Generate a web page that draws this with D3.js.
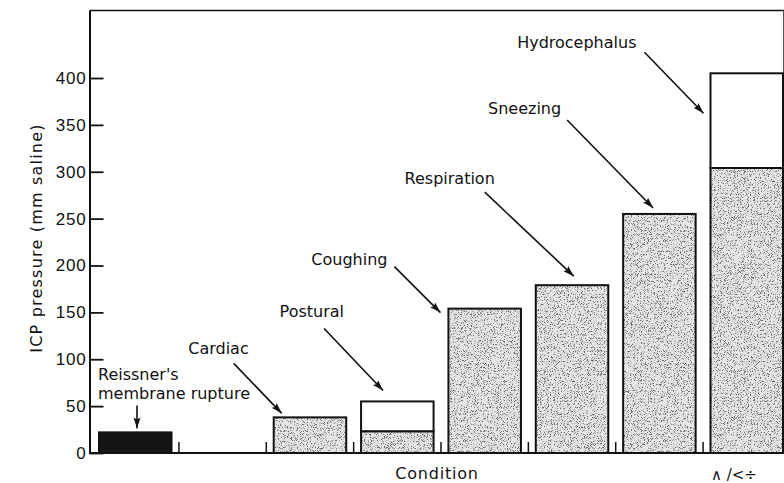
<!DOCTYPE html>
<html>
<head>
<meta charset="utf-8">
<script src="https://cdn.jsdelivr.net/npm/d3@7"></script>
<style>
    body { margin: 0; background: #fff; }
    svg { display: block; font-family: 'DejaVu Sans', sans-serif; }
    .tick text { font-size: 17px; letter-spacing: 0.8px; fill: #111; }
    .label { font-size: 16px; fill: #111; }
</style>
</head>
<body>
<svg id="plot"></svg>
<script>
'use strict';

const width = 784;
const height = 483;

// one empty slot between the first bar and Cardiac
const conditions = ["Reissner's membrane rupture", 'gap', 'Cardiac', 'Postural', 'Coughing', 'Respiration', 'Sneezing', 'Hydrocephalus'];
const baseValues = [22, null, 38, 23, 154, 179, 255, 304];
const peakValues = [null, null, null, 55, null, null, null, 405];
const yTicks = [0, 50, 100, 150, 200, 250, 300, 350, 400];

const axisX = 89.5;
const baseY = 453;
const topY = 10.5;

const svg = d3.select('#plot')
    .attr('width', width)
    .attr('height', height);

const xScale = d3.scaleBand()
    .domain(conditions)
    .range([99, 783])
    .paddingInner(0.17)
    .paddingOuter(0);

const yScale = d3.scaleLinear()
    .domain([0, 472])
    .range([baseY, topY]);

const defs = svg.append('defs');

defs.append('marker')
    .attr('id', 'head')
    .attr('markerUnits', 'userSpaceOnUse')
    .attr('markerWidth', 12)
    .attr('markerHeight', 8)
    .attr('refX', 11)
    .attr('refY', 3.5)
    .attr('orient', 'auto')
    .append('path')
    .attr('d', 'M0,0 L11,3.5 L0,7 L2,3.5 Z')
    .attr('fill', '#111');

// stippled grey like the printed original
const stip = defs.append('filter')
    .attr('id', 'stipple')
    .attr('x', 0).attr('y', 0).attr('width', 1).attr('height', 1);
stip.append('feTurbulence')
    .attr('type', 'fractalNoise')
    .attr('baseFrequency', 1.3)
    .attr('numOctaves', 1)
    .attr('seed', 7)
    .attr('result', 'noise');
stip.append('feColorMatrix')
    .attr('in', 'noise')
    .attr('type', 'matrix')
    .attr('values', '0 0 0 0 0.15  0 0 0 0 0.15  0 0 0 0 0.15  8 0 0 0 -4.25')
    .attr('result', 'dots');
stip.append('feFlood')
    .attr('flood-color', '#e6e6e6')
    .attr('result', 'bg');
stip.append('feComposite')
    .attr('in', 'dots')
    .attr('in2', 'bg')
    .attr('operator', 'over');

defs.append('pattern')
    .attr('id', 'grey')
    .attr('patternUnits', 'userSpaceOnUse')
    .attr('width', 200)
    .attr('height', 200)
    .append('rect')
    .attr('width', 200)
    .attr('height', 200)
    .attr('filter', 'url(#stipple)');

// frame
svg.append('line')
    .attr('x1', axisX).attr('x2', width)
    .attr('y1', topY).attr('y2', topY)
    .attr('stroke', '#111').attr('stroke-width', 1.5);
svg.append('line')
    .attr('x1', 783.5).attr('x2', 783.5)
    .attr('y1', topY).attr('y2', baseY)
    .attr('stroke', '#555').attr('stroke-width', 1);

// y axis, ticks pointing inward
svg.append('g')
    .attr('transform', `translate(${axisX},0)`)
    .call(d3.axisLeft(yScale).tickValues(yTicks).tickSizeInner(-14).tickSizeOuter(0).tickPadding(3))
    .call(g => g.select('.domain').attr('stroke', '#111').attr('stroke-width', 2))
    .call(g => g.selectAll('.tick line').attr('stroke', '#111').attr('stroke-width', 1.8))
    .call(g => g.selectAll('.tick text').attr('font-family', null).attr('font-size', null));

const bars = conditions.map((c, i) => ({ c, base: baseValues[i], peak: peakValues[i], i }))
    .filter(d => d.base !== null);

// upper (white) part of the range bars
svg.selectAll('rect.peak')
    .data(bars.filter(d => d.peak !== null))
    .enter()
    .append('rect')
    .attr('class', 'peak')
    .attr('x', d => xScale(d.c))
    .attr('y', d => yScale(d.peak))
    .attr('width', xScale.bandwidth())
    .attr('height', d => yScale(d.base) - yScale(d.peak))
    .attr('fill', '#fff')
    .attr('stroke', '#111')
    .attr('stroke-width', 2);

svg.selectAll('rect.base')
    .data(bars)
    .enter()
    .append('rect')
    .attr('class', 'base')
    .attr('x', d => xScale(d.c))
    .attr('y', d => yScale(d.base))
    .attr('width', xScale.bandwidth())
    .attr('height', d => yScale(0) - yScale(d.base))
    .attr('fill', d => d.i === 0 ? '#141414' : 'url(#grey)')
    .attr('stroke', '#111')
    .attr('stroke-width', 2);

// baseline with small separators between slots
svg.append('line')
    .attr('x1', axisX).attr('x2', width)
    .attr('y1', baseY).attr('y2', baseY)
    .attr('stroke', '#111').attr('stroke-width', 2);

const gap = xScale.step() - xScale.bandwidth();
svg.selectAll('line.sep')
    .data(conditions.slice(0, -1))
    .enter()
    .append('line')
    .attr('class', 'sep')
    .attr('x1', c => xScale(c) + xScale.bandwidth() + gap / 2)
    .attr('x2', c => xScale(c) + xScale.bandwidth() + gap / 2)
    .attr('y1', baseY)
    .attr('y2', baseY - 11)
    .attr('stroke', '#111')
    .attr('stroke-width', 1.5);

// annotation arrows, anchored to the bar tops
const notes = [
    { c: conditions[0], end: [38, -4], vec: [0, 23], lines: ["Reissner's", 'membrane rupture'], anchor: 'start', txt: [-39, -25] },
    { c: 'Cardiac', end: [8, -4], vec: [48, 50], lines: ['Cardiac'], anchor: 'end', txt: [15, -9] },
    { c: 'Postural', end: [22, -11], vec: [59, 62], lines: ['Postural'], anchor: 'end', txt: [20, -11] },
    { c: 'Coughing', end: [-8, 4], vec: [46, 46], lines: ['Coughing'], anchor: 'end', txt: [-7, -2] },
    { c: 'Respiration', end: [38, -9], vec: [89, 84], lines: ['Respiration'], anchor: 'end', txt: [10, -8] },
    { c: 'Sneezing', end: [30, -6], vec: [86, 88], lines: ['Sneezing'], anchor: 'end', txt: [-6, -6] },
    { c: 'Hydrocephalus', end: [-7, 40], vec: [59, 61], lines: ['Hydrocephalus'], anchor: 'end', txt: [-8, -4] }
];

notes.forEach(n => {
    const i = conditions.indexOf(n.c);
    const top = peakValues[i] !== null ? peakValues[i] : baseValues[i];
    const ex = xScale(n.c) + n.end[0];
    const ey = yScale(top) + n.end[1];
    const sx = ex - n.vec[0];
    const sy = ey - n.vec[1];

    svg.append('line')
        .attr('x1', sx).attr('y1', sy)
        .attr('x2', ex).attr('y2', ey)
        .attr('stroke', '#111')
        .attr('stroke-width', 1.6)
        .attr('marker-end', 'url(#head)');

    const t = svg.append('text')
        .attr('class', 'label')
        .attr('text-anchor', n.anchor)
        .attr('x', sx + n.txt[0])
        .attr('y', sy + n.txt[1]);
    n.lines.forEach((line, k) => {
        t.append('tspan')
            .attr('x', sx + n.txt[0])
            .attr('dy', k === 0 ? 0 : 19)
            .text(line);
    });
});

// axis titles
svg.append('text')
    .attr('class', 'label')
    .attr('text-anchor', 'middle')
    .attr('x', 437)
    .attr('y', 479)
    .style('font-size', '16px')
    .style('letter-spacing', '0.8px')
    .text('Condition');

svg.append('text')
    .attr('class', 'label')
    .attr('text-anchor', 'middle')
    .attr('transform', 'translate(42,238) rotate(-90)')
    .style('font-size', '16px')
    .style('letter-spacing', '1.2px')
    .text('ICP pressure (mm saline)');

// handwritten mark in the corner
svg.append('text')
    .attr('x', 711)
    .attr('y', 480)
    .style('font-size', '15px')
    .style('fill', '#111')
    .text('∧ /<÷');
</script>
</body>
</html>
